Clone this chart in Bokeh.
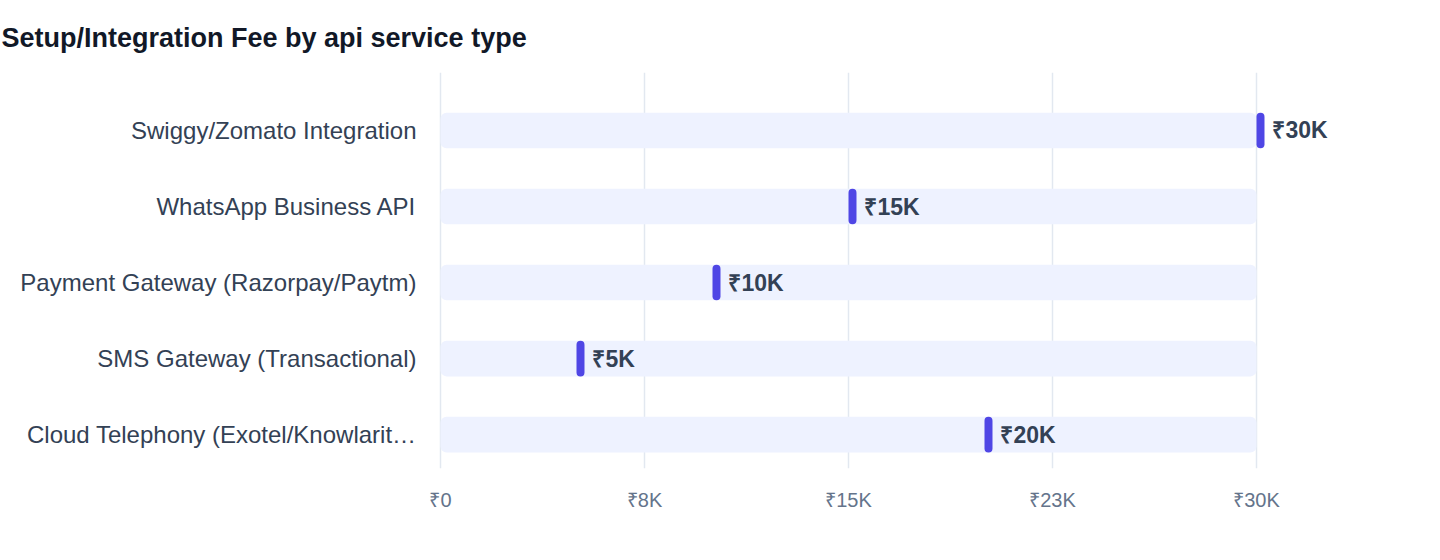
from bokeh.core.properties import value
from bokeh.embed import file_html
from bokeh.models import ColumnDataSource, FixedTicker, Range1d, Title
from bokeh.plotting import figure
from bokeh.resources import INLINE

# data, top row first
services = [
    'Swiggy/Zomato Integration',
    'WhatsApp Business API',
    'Payment Gateway (Razorpay/Paytm)',
    'SMS Gateway (Transactional)',
    'Cloud Telephony (Exotel/Knowlarit\u2026',
]
fees = [30000, 15000, 10000, 5000, 20000]
fee_labels = ['\u20b930K', '\u20b915K', '\u20b910K', '\u20b95K', '\u20b920K']
x_ticks = [0, 7500, 15000, 22500, 30000]
x_tick_labels = ['\u20b90', '\u20b98K', '\u20b915K', '\u20b923K', '\u20b930K']
fee_max = 30000

FONT = 'Liberation Sans'
rows = list(range(len(services)))

p = figure(
    width=1390,
    height=532,
    output_backend='svg',
    toolbar_location=None,
    x_range=Range1d(-147, 33456),
    y_range=Range1d(4.447, -0.763),
    min_border_left=436,
    min_border_top=72,
    min_border_right=40,
    min_border_bottom=64,
    outline_line_color=None,
)

t = Title(text='Setup/Integration Fee by api service type', text_font=FONT,
          text_font_size='27px', text_font_style='bold', text_color='#111827',
          offset=-435, standoff=40)
p.add_layout(t, 'above')

src = ColumnDataSource(dict(
    y=rows,
    fee=fees,
    label=fee_labels,
    end=[f + 294 for f in fees],
    track=[fee_max] * len(fees),
))

p.hbar(y='y', left=0, right='track', height=0.47, source=src,
       fill_color='#EEF2FF', line_color=None, border_radius=6)
p.hbar(y='y', left='fee', right='end', height=0.47, source=src,
       fill_color='#4F46E5', line_color=None, border_radius=4)
p.text(x='fee', y='y', text='label', source=src, x_offset=16,
       text_font=value(FONT), text_font_size='23px', text_font_style='bold',
       text_color='#334155', text_baseline='middle', text_align='left')

p.xaxis.ticker = FixedTicker(ticks=x_ticks)
p.xaxis.major_label_overrides = dict(zip(x_ticks, x_tick_labels))
p.xaxis.axis_line_color = None
p.xaxis.major_tick_line_color = None
p.xaxis.minor_tick_line_color = None
p.xaxis.major_label_standoff = 14
p.xaxis.major_label_text_font = FONT
p.xaxis.major_label_text_font_size = '20px'
p.xaxis.major_label_text_color = '#64748B'

p.yaxis.ticker = FixedTicker(ticks=rows)
p.yaxis.major_label_overrides = dict(zip(rows, services))
p.yaxis.axis_line_color = None
p.yaxis.major_tick_line_color = None
p.yaxis.minor_tick_line_color = None
p.yaxis.major_label_standoff = 14
p.yaxis.major_label_text_font = FONT
p.yaxis.major_label_text_font_size = '24px'
p.yaxis.major_label_text_color = '#334155'

p.xgrid.grid_line_color = '#E2E8F0'
p.xgrid.grid_line_width = 1.5
p.ygrid.grid_line_color = None

open('out.html', 'w').write(file_html(p, INLINE))
